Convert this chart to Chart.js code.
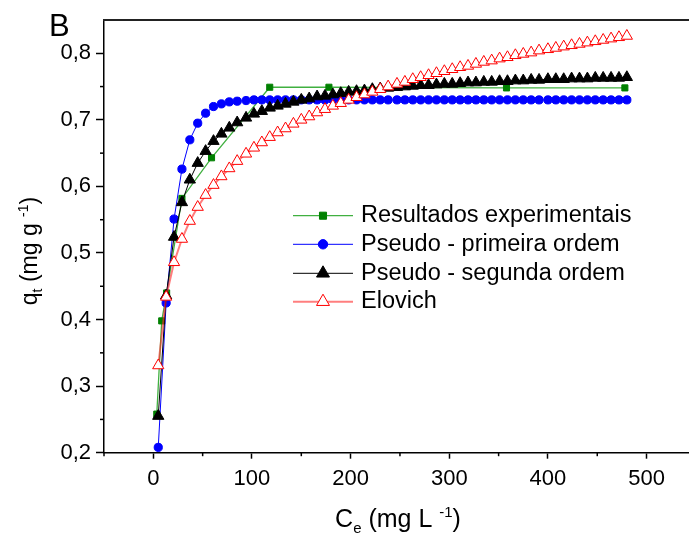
<!DOCTYPE html>
<html><head><meta charset="utf-8">
<script src="https://cdn.jsdelivr.net/npm/chart.js@4.4.1/dist/chart.umd.min.js"></script>
<style>html,body{margin:0;padding:0;background:#fff;}canvas{display:block;}</style>
</head><body>
<canvas id="c" width="689" height="547"></canvas>
<script>
// ---------------- data ----------------
const seriesLabels = ['Resultados experimentais', 'Pseudo - primeira ordem', 'Pseudo - segunda ordem', 'Elovich'];
const expX = [3.5, 8.5, 13.5, 29, 59, 118, 178, 358, 478];
const expY = [0.258, 0.398, 0.440, 0.582, 0.643, 0.749, 0.749, 0.748, 0.748];
const modelX = [5, 13, 21, 29, 37, 45, 53, 61, 69, 77,
  85, 94, 102, 110, 118, 126, 134, 142, 150, 158,
  166, 174, 182, 190, 198, 206, 214, 222, 230, 238,
  247, 255, 263, 271, 279, 287, 295, 303, 311, 319,
  327, 335, 343, 351, 359, 367, 375, 383, 391, 400,
  408, 416, 424, 432, 440, 448, 456, 464, 472, 480];
const pfoY = [0.208, 0.425, 0.551, 0.626, 0.670, 0.695, 0.710, 0.720, 0.724, 0.727,
  0.728, 0.729, 0.730, 0.730, 0.730, 0.730, 0.730, 0.730, 0.730, 0.730,
  0.730, 0.730, 0.730, 0.730, 0.730, 0.730, 0.730, 0.730, 0.730, 0.730,
  0.730, 0.730, 0.730, 0.730, 0.730, 0.730, 0.730, 0.730, 0.730, 0.730,
  0.730, 0.730, 0.730, 0.730, 0.730, 0.730, 0.730, 0.730, 0.730, 0.730,
  0.730, 0.730, 0.730, 0.730, 0.730, 0.730, 0.730, 0.730, 0.730, 0.730];
const psoY = [0.255, 0.436, 0.524, 0.576, 0.610, 0.635, 0.653, 0.668, 0.679, 0.688,
  0.696, 0.703, 0.709, 0.713, 0.718, 0.721, 0.724, 0.727, 0.730, 0.732,
  0.735, 0.736, 0.738, 0.740, 0.742, 0.743, 0.744, 0.746, 0.747, 0.748,
  0.749, 0.750, 0.751, 0.752, 0.752, 0.753, 0.754, 0.754, 0.755, 0.756,
  0.756, 0.757, 0.757, 0.758, 0.758, 0.759, 0.759, 0.760, 0.760, 0.761,
  0.761, 0.761, 0.762, 0.762, 0.762, 0.763, 0.763, 0.763, 0.763, 0.764];
const elovichY = [0.331, 0.434, 0.486, 0.521, 0.548, 0.569, 0.587, 0.602, 0.615, 0.627,
  0.638, 0.649, 0.658, 0.666, 0.674, 0.681, 0.687, 0.694, 0.700, 0.705,
  0.711, 0.716, 0.721, 0.725, 0.730, 0.734, 0.738, 0.742, 0.746, 0.750,
  0.754, 0.757, 0.761, 0.764, 0.767, 0.770, 0.773, 0.776, 0.779, 0.781,
  0.784, 0.787, 0.789, 0.792, 0.794, 0.797, 0.799, 0.801, 0.804, 0.806,
  0.808, 0.810, 0.812, 0.814, 0.816, 0.818, 0.820, 0.822, 0.824, 0.826];
const xTicks = [0, 100, 200, 300, 400, 500];
const yTicks = [0.2, 0.3, 0.4, 0.5, 0.6, 0.7, 0.8];
const xMinorTicks = [-50, 50, 150, 250, 350, 450];
const yMinorTicks = [0.25, 0.35, 0.45, 0.55, 0.65, 0.75];

// ---------------- styles ----------------
const FONT = '"Liberation Sans", Arial, Helvetica, sans-serif';
const styles = [
  {stroke: '#008000', line: 'rgba(0,150,0,0.75)', lw: 1.3, shape: 'rect', r: 4.3, fill: '#008000', lr: 5},
  {stroke: '#0000ff', line: '#0000ff', lw: 1, shape: 'circle', r: 4.1, fill: '#0000ff', lr: 4.7},
  {stroke: '#000000', line: '#000000', lw: 1, shape: 'triangle', r: 6.5, fill: '#000000', lr: 7.5},
  {stroke: '#ff0000', line: 'rgba(255,40,40,0.6)', lw: 2, shape: 'triangle', r: 6.5, fill: '#ffffff', lr: 7.5}
];
const drawOrder = [4, 3, 2, 1];
const series = [[expX, expY], [modelX, pfoY], [modelX, psoY], [modelX, elovichY]];

const datasets = series.map(([xs, ys], i) => ({
  label: seriesLabels[i],
  data: xs.map((x, j) => ({x: x, y: ys[j]})),
  showLine: true,
  borderColor: styles[i].line,
  borderWidth: styles[i].lw,
  backgroundColor: styles[i].fill,
  pointStyle: styles[i].shape,
  pointRadius: styles[i].r,
  pointHoverRadius: styles[i].r,
  pointBackgroundColor: styles[i].fill,
  pointBorderColor: styles[i].stroke,
  pointBorderWidth: 1,
  tension: 0,
  fill: false,
  order: drawOrder[i]
}));

function drawMarker(ctx, shape, x, y, r, fill, stroke) {
  ctx.beginPath();
  if (shape === 'circle') {
    ctx.arc(x, y, r, 0, Math.PI * 2);
  } else if (shape === 'rect') {
    const s = r * Math.SQRT1_2;
    ctx.rect(x - s, y - s, 2 * s, 2 * s);
  } else {
    let a = 0;
    ctx.moveTo(x + Math.sin(a) * r, y - Math.cos(a) * r);
    a += 2 * Math.PI / 3;
    ctx.lineTo(x + Math.sin(a) * r, y - Math.cos(a) * r);
    a += 2 * Math.PI / 3;
    ctx.lineTo(x + Math.sin(a) * r, y - Math.cos(a) * r);
    ctx.closePath();
  }
  ctx.fillStyle = fill; ctx.fill();
  ctx.lineWidth = 1; ctx.strokeStyle = stroke; ctx.stroke();
}

function drawRich(ctx, pieces, anchorX, baseY) {
  let total = 0;
  pieces.forEach(p => { ctx.font = p.size + 'px ' + FONT; p.w = ctx.measureText(p.t).width; total += p.w; });
  let x = anchorX - total / 2;
  ctx.textAlign = 'left'; ctx.textBaseline = 'alphabetic';
  pieces.forEach(p => { ctx.font = p.size + 'px ' + FONT; ctx.fillText(p.t, x, baseY + (p.dy || 0)); x += p.w; });
}

const decor = {
  id: 'decor',
  afterDraw(chart) {
    const ctx = chart.ctx, a = chart.chartArea, sx = chart.scales.x, sy = chart.scales.y;
    ctx.save();
    // top frame line
    ctx.strokeStyle = '#222'; ctx.lineWidth = 2;
    ctx.beginPath(); ctx.moveTo(a.left - 1, a.top); ctx.lineTo(a.right, a.top); ctx.stroke();
    // minor ticks
    ctx.strokeStyle = '#000'; ctx.lineWidth = 1.5;
    xMinorTicks.forEach(v => { const px = sx.getPixelForValue(v); ctx.beginPath(); ctx.moveTo(px, a.bottom); ctx.lineTo(px, a.bottom + 3.5); ctx.stroke(); });
    yMinorTicks.forEach(v => { const py = sy.getPixelForValue(v); ctx.beginPath(); ctx.moveTo(a.left, py); ctx.lineTo(a.left - 4, py); ctx.stroke(); });
    ctx.fillStyle = '#000';
    // x title
    drawRich(ctx, [
      {t: 'C', size: 25}, {t: 'e', size: 15, dy: 6}, {t: ' (mg L ', size: 25}, {t: '-1', size: 15, dy: -10}, {t: ')', size: 25}
    ], 398, 527);
    // y title
    ctx.save();
    ctx.translate(37, 251); ctx.rotate(-Math.PI / 2);
    drawRich(ctx, [
      {t: 'q', size: 23}, {t: 't', size: 14, dy: 5}, {t: ' (mg g ', size: 23}, {t: '-1', size: 14, dy: -9}, {t: ')', size: 23}
    ], 0, 0);
    ctx.restore();
    // panel letter
    ctx.font = '31px ' + FONT; ctx.textAlign = 'left'; ctx.textBaseline = 'alphabetic';
    ctx.fillText('B', 49, 36);
    // legend
    const rows = [215.7, 244.3, 273.3, 301.7];
    seriesLabels.forEach((lab, i) => {
      const st = styles[i], y = rows[i];
      ctx.strokeStyle = st.line; ctx.lineWidth = st.lw;
      ctx.beginPath(); ctx.moveTo(293, y); ctx.lineTo(353, y); ctx.stroke();
      drawMarker(ctx, st.shape, 323, y, st.lr, st.fill, st.stroke);
      ctx.fillStyle = '#000'; ctx.font = '23.5px ' + FONT; ctx.textAlign = 'left'; ctx.textBaseline = 'middle';
      ctx.fillText(lab, 361, y);
    });
    ctx.restore();
  }
};

new Chart(document.getElementById('c'), {
  type: 'scatter',
  data: {datasets: datasets},
  options: {
    responsive: false,
    animation: false,
    devicePixelRatio: 1,
    layout: {autoPadding: false, padding: {top: 20, left: 0, right: 0, bottom: 0}},
    plugins: {legend: {display: false}, tooltip: {enabled: false}, title: {display: false}},
    scales: {
      x: {
        type: 'linear', min: -50, max: 543,
        afterBuildTicks: s => { s.ticks = xTicks.map(v => ({value: v})); },
        afterFit: s => { s.height = 94.3; s.paddingLeft = 0; s.paddingRight = 0; },
        grid: {display: true, drawOnChartArea: false, drawTicks: true, tickLength: 6, tickWidth: 1.5, tickColor: '#000'},
        border: {display: true, color: '#000', width: 1.5},
        ticks: {font: {family: FONT, size: 22}, color: '#000', padding: 7, maxRotation: 0, autoSkip: false,
          callback: v => String(v)}
      },
      y: {
        type: 'linear', min: 0.2, max: 0.85,
        afterBuildTicks: s => { s.ticks = yTicks.map(v => ({value: v})); },
        afterFit: s => { s.width = 104; s.paddingTop = 0; s.paddingBottom = 0; },
        grid: {display: true, drawOnChartArea: false, drawTicks: true, tickLength: 8, tickWidth: 1.5, tickColor: '#000'},
        border: {display: true, color: '#000', width: 1.5},
        ticks: {font: {family: FONT, size: 22}, color: '#000', padding: 5, autoSkip: false,
          callback: v => Number(v).toFixed(1).replace('.', ',')}
      }
    }
  },
  plugins: [decor]
});
</script>
</body></html>
